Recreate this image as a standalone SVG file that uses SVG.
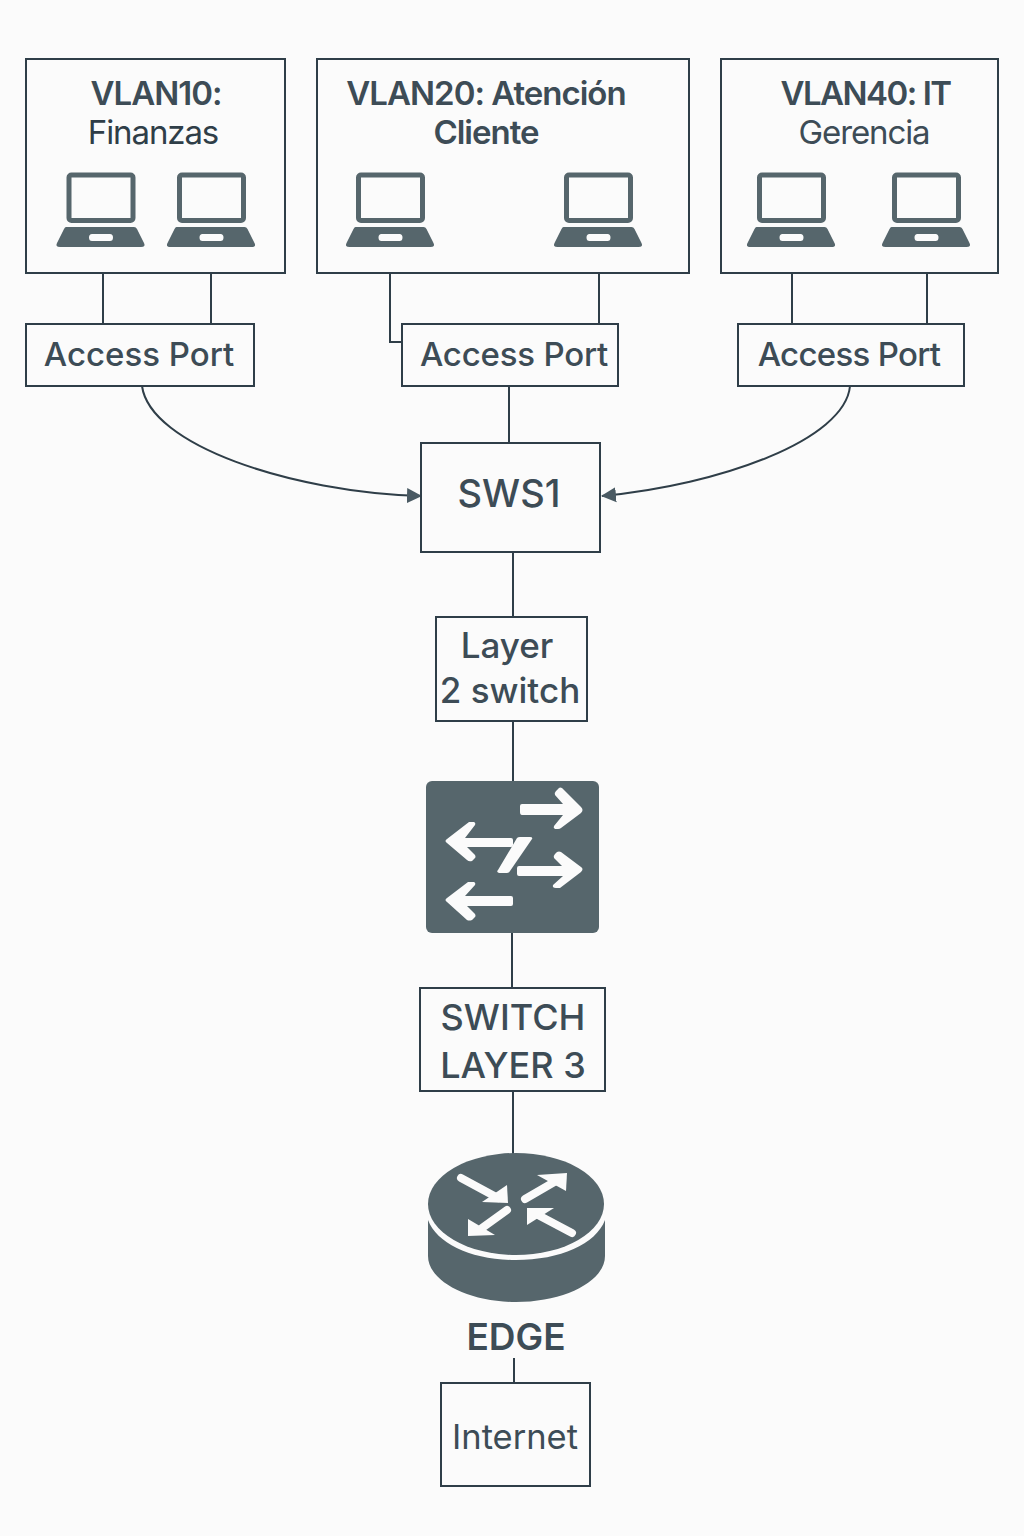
<svg xmlns="http://www.w3.org/2000/svg" width="1024" height="1536" viewBox="0 0 1024 1536">
<style>
.box{fill:none;stroke:#2f3e48;stroke-width:2}
.w{fill:#fbfbfb;stroke:#2f3e48;stroke-width:2}
.c{fill:none;stroke:#2f3e48;stroke-width:2}
text{font-family:"Inter","Liberation Sans",sans-serif;fill:#3d4c56;text-anchor:middle;font-size:33px}
.b{font-weight:600;letter-spacing:-1px}
.r{font-weight:400;letter-spacing:-1.1px}
.m{font-weight:500}
.ic{fill:#56666c}
.ar{fill:#fbfbfb}
.sh{stroke:#fbfbfb;stroke-width:8;stroke-linecap:round}
</style>
<defs>
<marker id="ah" markerWidth="16" markerHeight="16" refX="14" refY="8" orient="auto" markerUnits="userSpaceOnUse"><path d="M0 0.5L15 8L0 15.5Z" fill="#4a5a63"/></marker>
<g id="laptop">
<rect x="12" y="2" width="64" height="45.500" rx="2.5" fill="none" stroke="#56666c" stroke-width="5"/>
<path d="M9 54H77Q79 54 80 56L87 70Q89 74 84 74H3Q-2 74 0 70L7 56Q8 54 9 54ZM35 61Q32 61 32 64.5Q32 68 35 68H53Q56 68 56 64.5Q56 61 53 61Z" class="ic" fill-rule="evenodd"/>
</g>
</defs>
<rect width="1024" height="1536" fill="#fbfbfb"/>
<g id="connectors">
<path class="c" d="M103 273V324M211 273V324M390 273V342H402M599 273V324M792 273V324M927 273V324"/>
<path class="c" d="M509 386V443M513 552V617M513 721V782M512 932V988M513 1091V1155M514 1358V1383"/>
<path class="c" marker-end="url(#ah)" d="M142 386C150 445 290 492 421 496"/>
<path class="c" marker-end="url(#ah)" d="M850 386C845 440 720 485 602 496"/>
</g>
<g id="vlan10">
<rect class="box" x="26" y="59" width="259" height="214"/>
<text class="b" x="156" y="105">VLAN10:</text>
<text class="r" x="153" y="144" style="fill:#2f3e48">Finanzas</text>
<use href="#laptop" x="57" y="173"/><use href="#laptop" x="167.500" y="173"/>
</g>
<g id="vlan20">
<rect class="box" x="317" y="59" width="372" height="214"/>
<text class="b" x="486" y="105">VLAN20: Atención</text>
<text class="b" x="486" y="144">Cliente</text>
<use href="#laptop" x="346.500" y="173"/><use href="#laptop" x="554.500" y="173"/>
</g>
<g id="vlan40">
<rect class="box" x="721" y="59" width="277" height="214"/>
<text class="b" x="865.500" y="105" style="letter-spacing:-1.5px">VLAN40: IT</text>
<text class="r" x="864" y="144">Gerencia</text>
<use href="#laptop" x="747.500" y="173"/><use href="#laptop" x="882.500" y="173"/>
</g>
<g id="access1"><rect class="w" x="26" y="324" width="228" height="62"/><text class="m" x="139" y="366">Access Port</text></g>
<g id="access2"><rect class="w" x="402" y="324" width="216" height="62"/><text class="m" x="514" y="366" style="letter-spacing:-0.2px">Access Port</text></g>
<g id="access3"><rect class="w" x="738" y="324" width="226" height="62"/><text class="m" x="849" y="366" style="letter-spacing:-0.7px">Access Port</text></g>
<g id="sws1"><rect class="box" x="421" y="443" width="179" height="109"/><text x="509" y="507" style="font-size:38px;font-weight:500">SWS1</text></g>
<g id="layer2"><rect class="box" x="436" y="617" width="151" height="104"/><text class="m" x="507" y="658" style="font-size:35px">Layer</text><text class="m" x="510" y="703" style="font-size:35px">2 switch</text></g>
<g id="switch-icon">
<rect class="ic" x="426" y="781" width="173" height="152" rx="6"/>
<path class="ar" d="M522 804H563L555 795Q554 793 556 791L559 788Q560 787 562 788L581 807Q584 810 581 813L561 828Q560 829 558 829H555Q553 828 554 826L563 815H522Q520 815 520 812V806Q520 804 522 804Z"/>
<path class="ar" d="M511 838H465L475 825Q476 823 474 822H469L447 839Q444 841 447 843L467 860Q469 862 472 861L475 858Q476 857 475 855L467 847H511Q513 847 513 845V840Q513 838 511 838Z"/>
<path class="ar" d="M519 866H562L554 858Q553 856 555 854L557 852Q559 851 561 852L581 867Q584 869 581 872L560 888H556Q552 888 553 885L563 876H519Q517 876 517 874V868Q517 866 519 866Z"/>
<path class="ar" d="M511 896H465L475 885Q476 883 474 882H468L447 898Q444 900 447 902L467 920Q469 921 472 920L475 917Q476 916 475 914L467 906H511Q513 906 513 904V898Q513 896 511 896Z"/>
<path class="ar" d="M517 838Q518 837 520 837H530Q533 837 532 839L510 871Q509 873 507 873H499Q496 872 498 870Z"/>
</g>
<g id="switch-l3"><rect class="box" x="420" y="988" width="185" height="103"/><text class="m" x="513" y="1030" style="font-size:36px">SWITCH</text><text class="m" x="513" y="1078" style="font-size:36px">LAYER 3</text></g>
<g id="router">
<path class="ic" d="M428 1220V1256C428 1281 468 1302 516 1302C565 1302 605 1281 605 1256V1220C596 1244 560 1260 516 1260C472 1260 437 1244 428 1220Z"/>
<ellipse class="ic" cx="516" cy="1204" rx="88" ry="51"/>
<path class="sh" d="M461 1178L498 1198M525 1199L556 1181M507 1210L482 1228M572 1233L538 1215"/>
<g class="ar">
<path d="M507 1185L508 1203L482 1202Z"/>
<path d="M567 1173L537 1175L566 1191Z"/>
<path d="M468 1236L468 1219L495 1235Z"/>
<path d="M527 1208L554 1208L527 1225Z"/>
</g>
</g>
<g id="edge"><text x="516" y="1350" style="font-size:37px;font-weight:600">EDGE</text></g>
<g id="internet"><rect class="box" x="441" y="1383" width="149" height="103"/><text x="515" y="1449" style="font-size:34.500px">Internet</text></g>
</svg>
